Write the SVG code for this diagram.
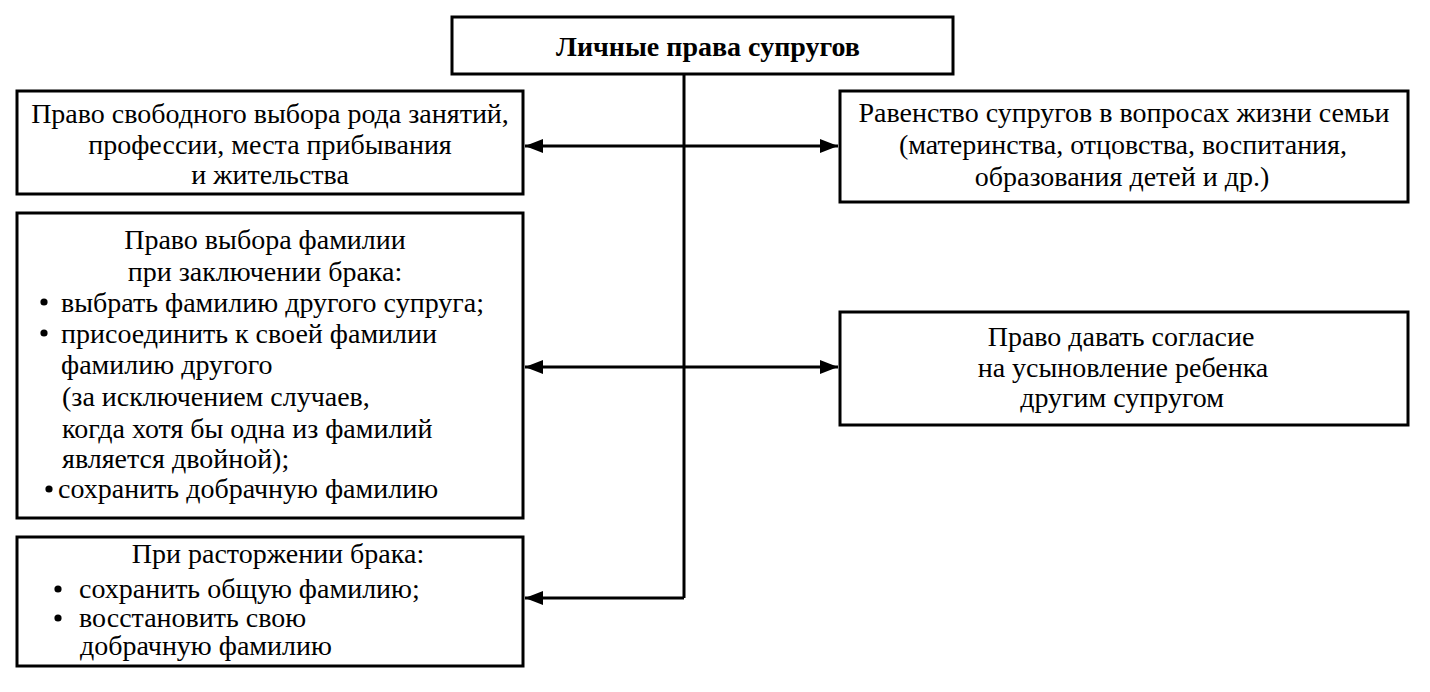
<svg xmlns="http://www.w3.org/2000/svg" width="1430" height="692" viewBox="0 0 1430 692">
<style>
.box{fill:#fff;stroke:#000;stroke-width:3}
.t{font-family:"Liberation Serif","Times New Roman",serif;font-size:28px;fill:#000}
.c{text-anchor:middle}
.b{font-weight:bold}
.dot{fill:#000}
.ln{stroke:#000;stroke-width:3;fill:none}
</style>
<defs>
<marker id="ah" markerWidth="18" markerHeight="14" refX="18" refY="7" orient="auto-start-reverse" markerUnits="userSpaceOnUse">
<path d="M0,0 L18,7 L0,14 Z" fill="#000"/>
</marker>
</defs>
<rect width="1430" height="692" fill="#fff"/>
<g id="connectors">
<line class="ln" x1="684" y1="74" x2="684" y2="598"/>
<line class="ln" x1="525" y1="146" x2="838" y2="146" marker-start="url(#ah)" marker-end="url(#ah)"/>
<line class="ln" x1="525" y1="367" x2="838" y2="367" marker-start="url(#ah)" marker-end="url(#ah)"/>
<line class="ln" x1="684" y1="598" x2="525" y2="598" marker-end="url(#ah)"/>
</g>
<g id="root">
<rect class="box" x="452" y="17" width="501" height="57"/>
<text class="t c b" x="708" y="56">Личные права супругов</text>
</g>
<g id="n1">
<rect class="box" x="17" y="91" width="506" height="103"/>
<text class="t c" x="270" y="123">Право свободного выбора рода занятий,</text>
<text class="t c" x="270" y="154">профессии, места прибывания</text>
<text class="t c" x="270" y="184">и жительства</text>
</g>
<g id="n2">
<rect class="box" x="840" y="91" width="568" height="111"/>
<text class="t c" x="1124" y="122">Равенство супругов в вопросах жизни семьи</text>
<text class="t c" x="1123" y="154">(материнства, отцовства, воспитания,</text>
<text class="t c" x="1122" y="186">образования детей и др.)</text>
</g>
<g id="n3">
<rect class="box" x="17" y="213" width="506" height="305"/>
<text class="t c" x="265" y="249">Право выбора фамилии</text>
<text class="t c" x="265" y="281">при заключении брака:</text>
<circle class="dot" cx="44" cy="302" r="3.6"/>
<text class="t" x="61" y="312">выбрать фамилию другого супруга;</text>
<circle class="dot" cx="44" cy="333" r="3.6"/>
<text class="t" x="61" y="343">присоединить к своей фамилии</text>
<text class="t" x="61" y="374">фамилию другого</text>
<text class="t" x="62" y="406">(за исключением случаев,</text>
<text class="t" x="62" y="438">когда хотя бы одна из фамилий</text>
<text class="t" x="62" y="468">является двойной);</text>
<circle class="dot" cx="49" cy="489" r="3.6"/>
<text class="t" x="58" y="498">сохранить добрачную фамилию</text>
</g>
<g id="n4">
<rect class="box" x="840" y="312" width="568" height="113"/>
<text class="t c" x="1121" y="346">Право давать согласие</text>
<text class="t c" x="1123" y="377">на усыновление ребенка</text>
<text class="t c" x="1122" y="407">другим супругом</text>
</g>
<g id="n5">
<rect class="box" x="17" y="537" width="506" height="129"/>
<text class="t c" x="278" y="563">При расторжении брака:</text>
<circle class="dot" cx="58" cy="589" r="3.6"/>
<text class="t" x="79" y="598">сохранить общую фамилию;</text>
<circle class="dot" cx="58" cy="618" r="3.6"/>
<text class="t" x="79" y="627">восстановить свою</text>
<text class="t" x="80" y="655">добрачную фамилию</text>
</g>
</svg>
